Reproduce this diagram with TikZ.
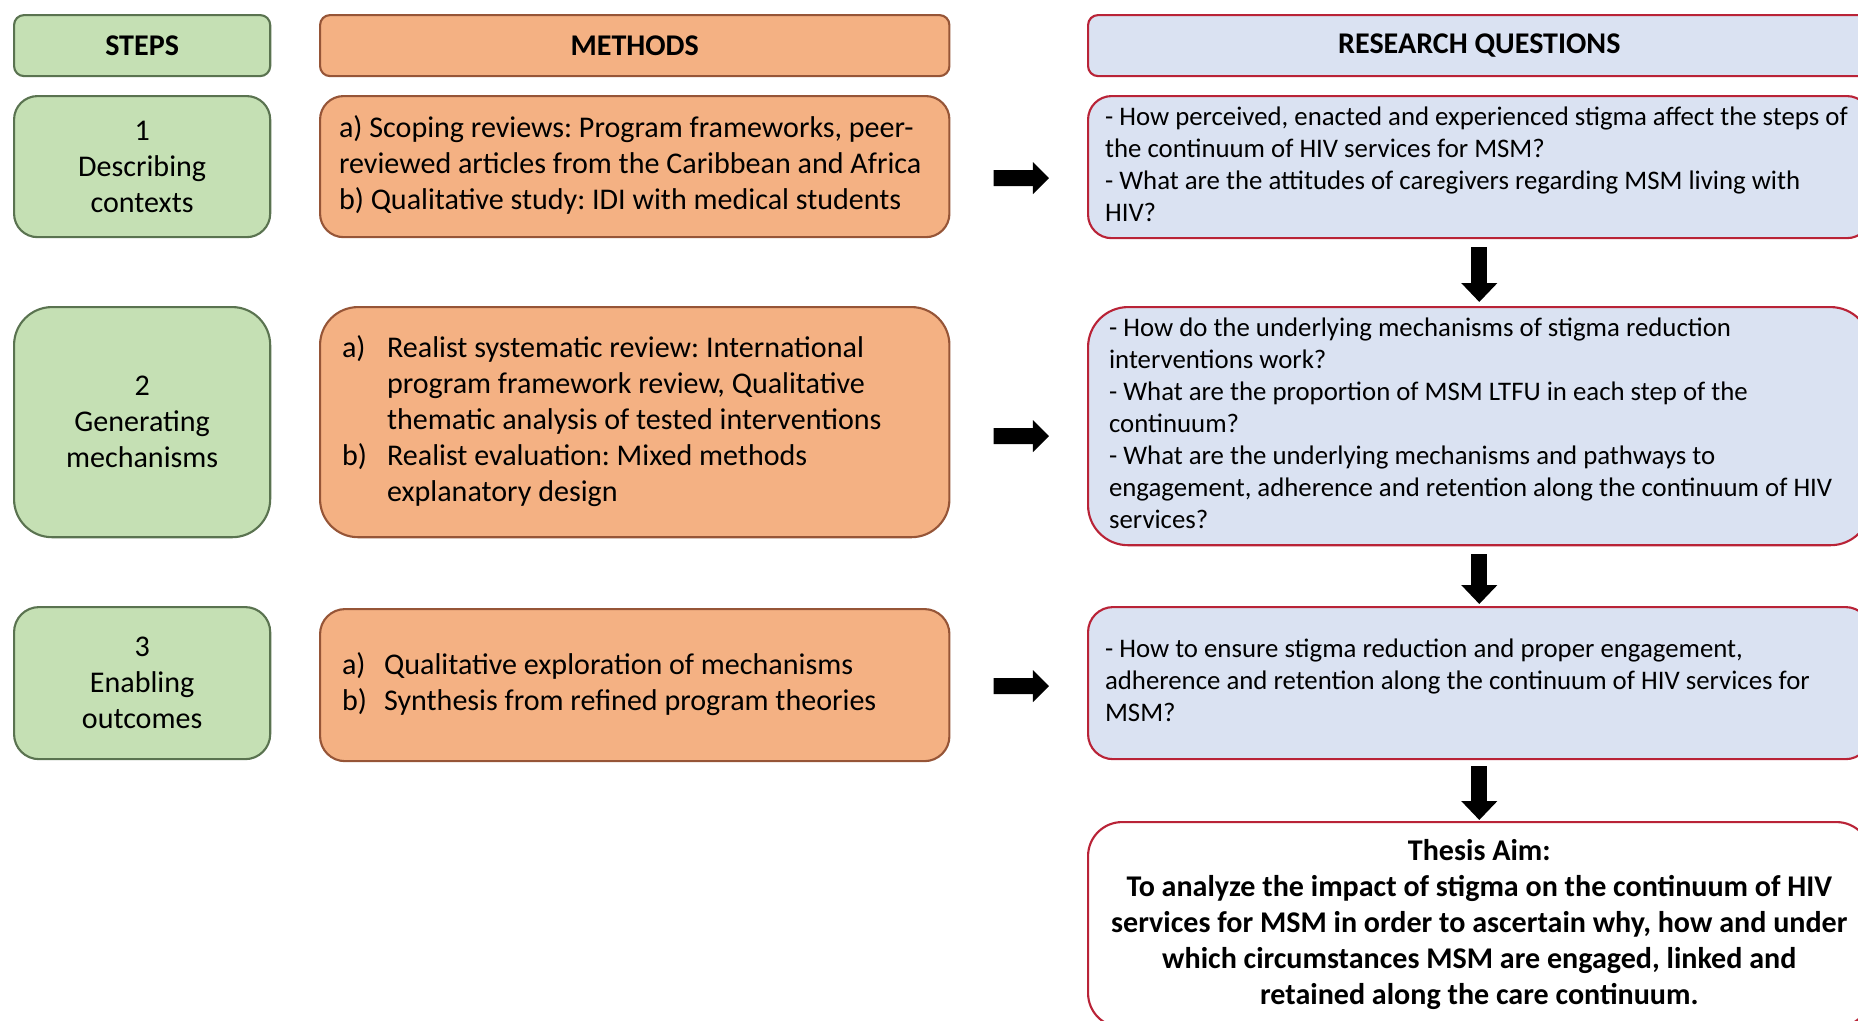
\documentclass[tikz,border=0pt]{standalone}
\usepackage{fontspec}
\setmainfont{Carlito}
\usetikzlibrary{arrows.meta}

\definecolor{stepfill}{RGB}{197,224,180}
\definecolor{stepline}{RGB}{90,115,80}
\definecolor{methfill}{RGB}{244,177,131}
\definecolor{methline}{RGB}{150,85,55}
\definecolor{rqfill}{RGB}{218,226,242}
\definecolor{rqline}{RGB}{185,35,55}

\newcommand\mainsize{\fontsize{8.55}{10.24}\selectfont}
\newcommand\rqsize{\fontsize{7.62}{9.1}\selectfont}
% left-aligned block of lines inside a box of fixed width: #1 width, #2 left padding, #3 lines
\newcommand\lefttext[3]{\makebox[#1][l]{\hspace*{#2}\begin{tabular}{@{}l@{}}#3\end{tabular}}}
\newcommand\itemlbl[2]{\makebox[#1][l]{#2}}

\begin{document}
\frenchspacing
\begin{tikzpicture}[x=0.01cm,y=-0.01cm,
  base/.style={draw, line width=0.6pt, inner sep=0pt, anchor=north west},
  stepbox/.style={base, fill=stepfill, draw=stepline, align=center, font=\mainsize},
  methbox/.style={base, fill=methfill, draw=methline, font=\mainsize},
  rqbox/.style={base, fill=rqfill, draw=rqline, font=\rqsize},
  aimbox/.style={base, fill=white, draw=rqline, align=center, font=\mainsize\bfseries},
  headtext/.style={font=\mainsize\bfseries},
  rarrow/.style={line width=0.16cm, -{Triangle[width=0.31cm,length=0.16cm]}},
  darrow/.style={line width=0.16cm, -{Triangle[width=0.35cm,length=0.19cm]}},
]
\useasboundingbox (0,0) rectangle (1858,1020);

% column headers
\node[stepbox, headtext, minimum width=2.56cm, minimum height=0.61cm, rounded corners=0.1cm] (hs) at (13,14) {STEPS};
\node[methbox, headtext, align=center, minimum width=6.29cm, minimum height=0.61cm, rounded corners=0.1cm] (hm) at (319,14) {METHODS};
\node[rqbox, headtext, align=center, minimum width=7.82cm, minimum height=0.61cm, rounded corners=0.1cm] (hr) at (1087,14) {RESEARCH QUESTIONS};

% row 1
\node[stepbox, minimum width=2.56cm, minimum height=1.41cm, rounded corners=0.235cm] (s1) at (13,95) {1\\Describing\\contexts};
\node[methbox, minimum width=6.29cm, minimum height=1.41cm, rounded corners=0.235cm] (m1) at (319,95)
  {\lefttext{6.29cm}{0.19cm}{a) Scoping reviews: Program frameworks, peer-\\reviewed articles from the Caribbean and Africa\\b) Qualitative study: IDI with medical students}};
\node[rqbox, minimum width=7.82cm, minimum height=1.42cm, rounded corners=0.235cm] (r1) at (1087,95)
  {\lefttext{7.82cm}{0.17cm}{- How perceived, enacted and experienced stigma affect the steps of\\the continuum of HIV services for MSM?\\- What are the attitudes of caregivers regarding MSM living with\\HIV?}};

% row 2
\node[stepbox, minimum width=2.56cm, minimum height=2.30cm, rounded corners=0.38cm] (s2) at (13,306) {2\\Generating\\mechanisms};
\node[methbox, minimum width=6.29cm, minimum height=2.30cm, rounded corners=0.38cm] (m2) at (319,306)
  {\lefttext{6.29cm}{0.22cm}{\itemlbl{0.45cm}{a)}Realist systematic review: International\\\hspace*{0.45cm}program framework review, Qualitative\\\hspace*{0.45cm}thematic analysis of tested interventions\\\itemlbl{0.45cm}{b)}Realist evaluation: Mixed methods\\\hspace*{0.45cm}explanatory design}};
\node[rqbox, minimum width=7.82cm, minimum height=2.38cm, rounded corners=0.40cm] (r2) at (1087,306)
  {\lefttext{7.82cm}{0.21cm}{- How do the underlying mechanisms of stigma reduction\\interventions work?\\- What are the proportion of MSM LTFU in each step of the\\continuum?\\- What are the underlying mechanisms and pathways to\\engagement, adherence and retention along the continuum of HIV\\services?}};

% row 3
\node[stepbox, minimum width=2.56cm, minimum height=1.52cm, rounded corners=0.25cm] (s3) at (13,606) {3\\Enabling\\outcomes};
\node[methbox, minimum width=6.29cm, minimum height=1.52cm, rounded corners=0.25cm] (m3) at (319,608)
  {\lefttext{6.29cm}{0.22cm}{\itemlbl{0.42cm}{a)}Qualitative exploration of mechanisms\\\itemlbl{0.42cm}{b)}Synthesis from refined program theories}};
\node[rqbox, minimum width=7.82cm, minimum height=1.52cm, rounded corners=0.25cm] (r3) at (1087,606)
  {\lefttext{7.82cm}{0.17cm}{- How to ensure stigma reduction and proper engagement,\\adherence and retention along the continuum of HIV services for\\MSM?}};

% overall aim
\node[aimbox, minimum width=7.82cm, minimum height=2.05cm, rounded corners=0.34cm] (aim) at (1087,821)
  {Thesis Aim:\\To analyze the impact of stigma on the continuum of HIV\\services for MSM in order to ascertain why, how and under\\which circumstances MSM are engaged, linked and\\retained along the care continuum.};

% methods lead to research questions
\draw[rarrow, shorten <=0.43cm, shorten >=0.38cm] ([yshift=-0.115cm]m1.east) -- ([yshift=-0.11cm]r1.west);
\draw[rarrow, shorten <=0.43cm, shorten >=0.38cm] ([yshift=-0.14cm]m2.east) -- ([yshift=-0.10cm]r2.west);
\draw[rarrow, shorten <=0.43cm, shorten >=0.38cm] ([yshift=-0.01cm]m3.east) -- ([yshift=-0.03cm]r3.west);

% research questions build toward the aim
\draw[darrow, shorten <=0.08cm, shorten >=0.04cm] (r1.south) -- (r2.north);
\draw[darrow, shorten <=0.08cm, shorten >=0.02cm] (r2.south) -- (r3.north);
\draw[darrow, shorten <=0.06cm, shorten >=0.01cm] (r3.south) -- (aim.north);
\end{tikzpicture}
\end{document}
